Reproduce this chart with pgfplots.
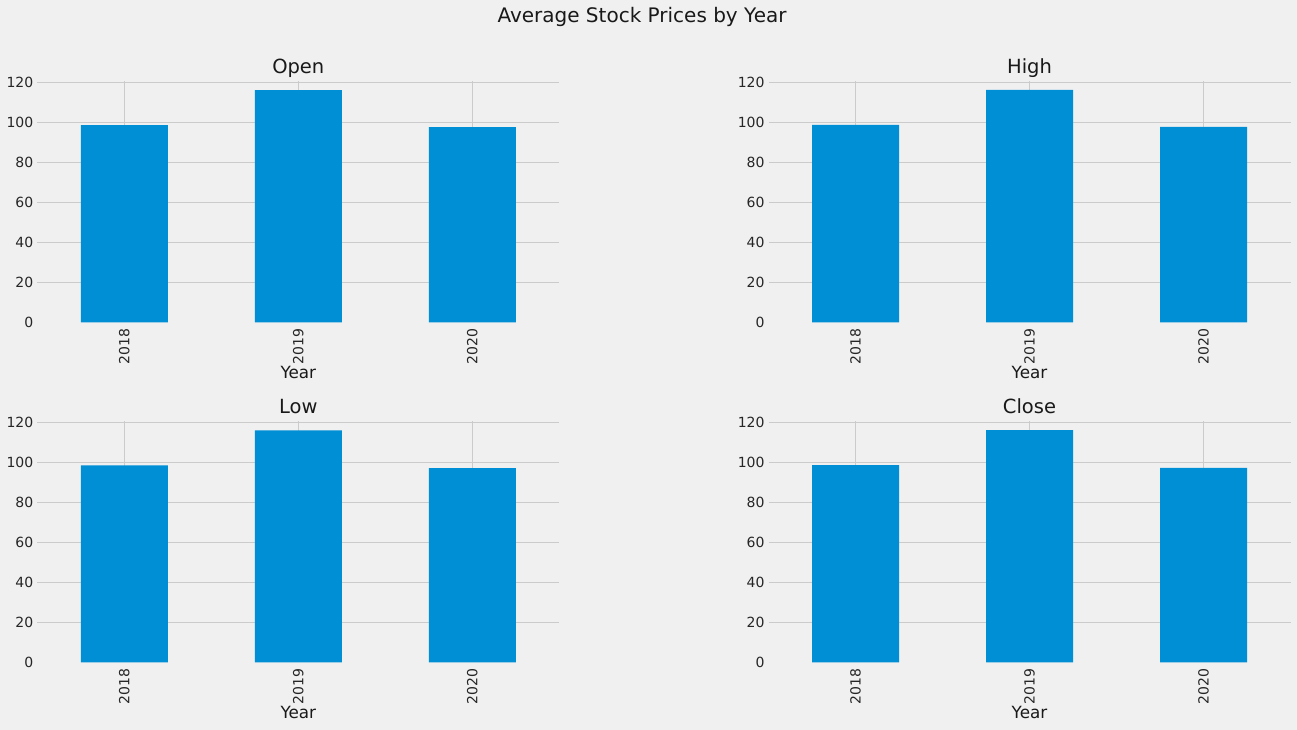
\documentclass[border=0pt]{standalone}
\usepackage{pgfplots}
\pgfplotsset{compat=1.18}
\usepackage{fontspec}
\setmainfont{DejaVu Sans}
\definecolor{bg}{HTML}{F0F0F0}
\definecolor{barc}{HTML}{008FD5}
\definecolor{gridc}{HTML}{CBCBCB}
\pgfplotsset{
  panel/.style={
    scale only axis,
    anchor=south west,
    width=522pt,
    height=241.4pt,
    xmin=-0.5, xmax=2.5,
    ymin=0, ymax=120.7,
    xtick={0,1,2},
    xticklabels={2018,2019,2020},
    ytick={20,40,...,120},
    extra y ticks={0},
    extra y tick style={grid=none},
    grid=major,
    major grid style={line width=1pt, color=gridc},
    axis line style={draw=none},
    major tick length=0pt,
    tick style={draw=none},
    /pgf/number format/assume math mode=true,
    ticklabel style={font=\fontsize{14}{16}\selectfont, text=black!85},
    xticklabel style={yshift=-6pt, rotate=90, anchor=east, inner sep=0pt},
    yticklabel style={anchor=east, inner sep=0pt, xshift=-3.8pt},
    title style={at={(0.5,1)}, anchor=base, yshift=1.7pt, font=\fontsize{19.5}{23}\selectfont, text=black!90},
    xlabel={Year},
    xlabel style={at={(0.5,0)}, anchor=base, yshift=-56pt, font=\fontsize{16.8}{20}\selectfont, text=black!90},
  },
  barplot/.style={ybar, fill=barc, draw=none, bar width=0.5, bar shift=0pt},
}
\begin{document}
\begin{tikzpicture}[x=1pt,y=1pt]
\fill[bg] (0,0) rectangle (1297,730);
\node[anchor=base, font=\fontsize{20}{24}\selectfont, text=black!90] at (642,707.3) {Average Stock Prices by Year};

\begin{axis}[panel, at={(37.3pt,407.7pt)}, title={Open}]
\addplot[barplot] coordinates {(0,98.6) (1,116.1) (2,97.6)};
\end{axis}

\begin{axis}[panel, at={(768.5pt,407.7pt)}, title={High}]
\addplot[barplot] coordinates {(0,98.7) (1,116.2) (2,97.7)};
\end{axis}

\begin{axis}[panel, at={(37.3pt,67.7pt)}, title={Low}]
\addplot[barplot] coordinates {(0,98.5) (1,116.0) (2,97.1)};
\end{axis}

\begin{axis}[panel, at={(768.5pt,67.7pt)}, title={Close}]
\addplot[barplot] coordinates {(0,98.6) (1,116.1) (2,97.2)};
\end{axis}
\end{tikzpicture}
\end{document}
